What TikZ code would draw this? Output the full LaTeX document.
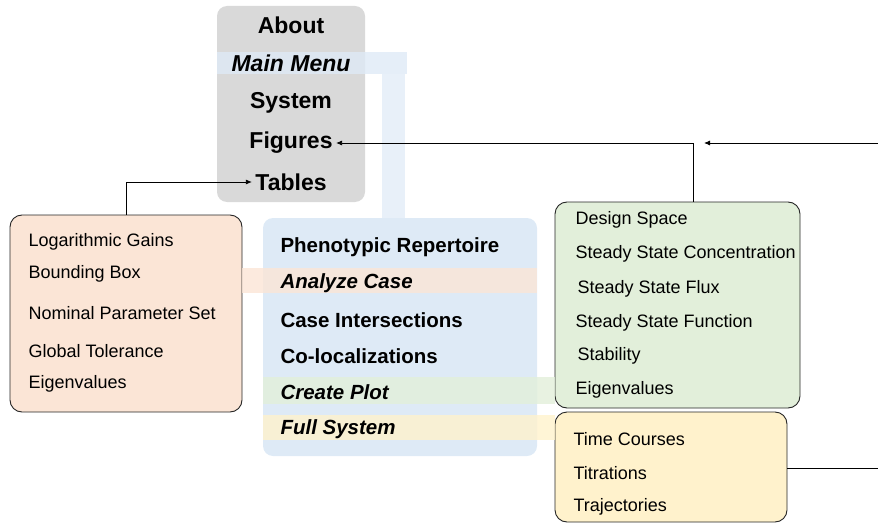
\documentclass[tikz,border=0pt]{standalone}
\usepackage{fontspec}
\setmainfont{Liberation Sans}
\usetikzlibrary{positioning, arrows.meta}
\definecolor{menugray}{HTML}{D9D9D9}
\definecolor{menublue}{HTML}{DEEAF6}
\definecolor{boxorange}{HTML}{FBE5D6}
\definecolor{boxgreen}{HTML}{E2EFDA}
\definecolor{boxyellow}{HTML}{FFF2CC}
\tikzset{
x=1pt, y=-1pt, % one unit is one pixel of the layout
menu/.style={rounded corners=10pt, inner sep=0pt}, % the two menus, no border
panel/.style={draw=black!85, line width=0.9pt, rounded corners=12pt, inner sep=0pt}, % sub menus
band/.style={fill opacity=0.8}, % strips that join a menu entry to its panel
head/.style={font=\fontsize{20.5}{22}\selectfont\bfseries},
top/.style={font=\fontsize{23}{25}\selectfont\bfseries},
entry/.style={font=\fontsize{18}{20}\selectfont, anchor=west},
link/.style={line width=0.8pt, -{Latex[length=6pt,width=5pt]}},
}
\begin{document}
\begin{tikzpicture}
\useasboundingbox (0,0) rectangle (878,524);

% boxes
\node[menu, fill=menugray, minimum width=148pt, minimum height=196pt] (main) at (291,104) {};
\fill[menublue, band] (217,52) rectangle (407,74);
\fill[menublue, opacity=0.7] (382,74) rectangle (405,218);
\node[menu, fill=menublue, minimum width=274pt, minimum height=238pt] (sys) at (400,337) {};
\node[panel, fill=boxorange, minimum width=232pt, minimum height=197pt] (analyze) at (126,313.5) {};
\node[panel, fill=boxgreen, minimum width=245pt, minimum height=206pt] (plot) at (677.5,305) {};
\node[panel, fill=boxyellow, minimum width=232pt, minimum height=110pt] (full) at (671,467) {};
\fill[boxorange, band] (analyze.east |- 0,268) rectangle (537,293);
\fill[boxgreen, band] (263,377) rectangle (plot.west |- 0,404);
\fill[boxyellow, band] (263,415) rectangle (full.west |- 0,440);

% main menu
\node[top] (about) at (291,25) {About};
\node[top] (mainmenu) at (291,63) {\itshape Main Menu};
\node[top] (system) at (291,103) {System};
\node[top] (figures) at (291,143) {Figures};
\node[top] (tables) at (291,182) {Tables};

% system menu
\node[head, anchor=west] (pheno) at (277,247) {Phenotypic Repertoire};
\node[head, anchor=west] (anacase) at (277,283) {\itshape Analyze Case};
\node[head, anchor=west] (inter) at (277,320) {Case Intersections};
\node[head, anchor=west] (coloc) at (277,356) {Co-localizations};
\node[head, anchor=west] (create) at (277,392) {\itshape Create Plot};
\node[head, anchor=west] (fullsys) at (277,429) {\itshape Full System};

% analyze case
\node[entry] (gains) at (25,242) {Logarithmic Gains};
\node[entry] (bbox) at (25,274) {Bounding Box};
\node[entry] (nominal) at (25,313) {Nominal Parameter Set};
\node[entry] (tol) at (25,351) {Global Tolerance};
\node[entry] (eiga) at (25,384) {Eigenvalues};

% create plot
\node[entry] (dspace) at (572,220) {Design Space};
\node[entry] (ssconc) at (572,254) {Steady State Concentration};
\node[entry] (ssflux) at (574,289) {Steady State Flux};
\node[entry] (ssfun) at (572,323) {Steady State Function};
\node[entry] (stab) at (574,356) {Stability};
\node[entry] (eigp) at (572,390) {Eigenvalues};

% full system
\node[entry] (tcourse) at (570,439) {Time Courses};
\node[entry] (titr) at (570,473) {Titrations};
\node[entry] (traj) at (570,507) {Trajectories};

% connectors
\coordinate (rin) at (878,143);
\coordinate (rtip) at (704,143);
\coordinate (rout) at (878,468);
\draw[link] (analyze.north) |- (tables.west);
\draw[link] ([xshift=15.5pt]plot.north) |- (figures.east);
\draw[link] (rin) -- (rtip);
\draw[line width=0.8pt] (full.east |- rout) -- (rout);
\end{tikzpicture}
\end{document}
